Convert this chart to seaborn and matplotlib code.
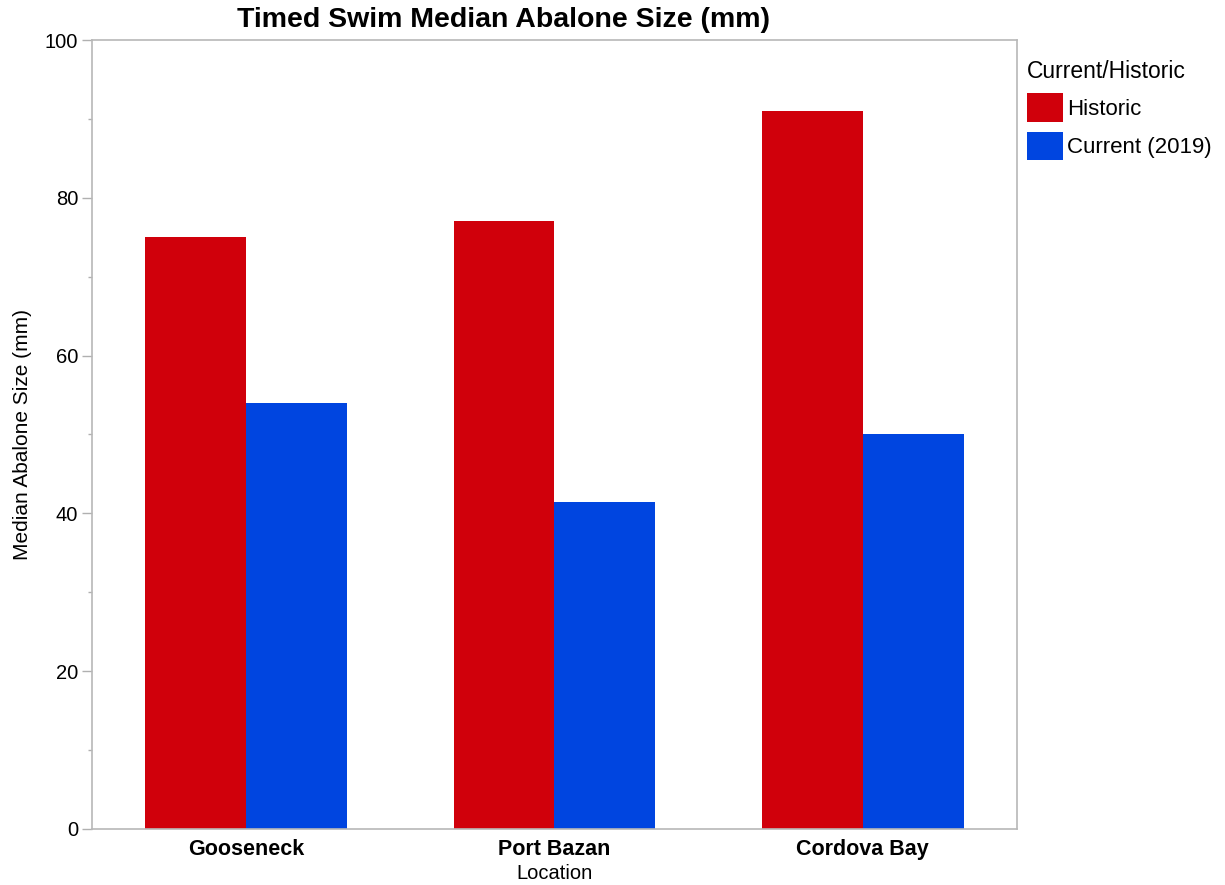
import matplotlib
matplotlib.use('Agg')
import matplotlib.pyplot as plt
import seaborn as sns
import pandas as pd
import numpy as np
from matplotlib.ticker import MultipleLocator

locations = ['Gooseneck', 'Port Bazan', 'Cordova Bay']
historic = [75, 77, 91]
current = [54, 41.5, 50]
groups = ['Historic', 'Current (2019)']

df = pd.DataFrame({
    'Location': locations * 2,
    'Current/Historic': [groups[0]] * 3 + [groups[1]] * 3,
    'size': historic + current,
})

sns.set_style('white')
plt.rcParams['font.family'] = ['Liberation Sans', 'DejaVu Sans']
plt.rcParams['text.color'] = 'black'
plt.rcParams['axes.labelcolor'] = 'black'
plt.rcParams['xtick.color'] = 'black'
plt.rcParams['ytick.color'] = 'black'

fig = plt.figure(figsize=(12.25, 8.85), dpi=100)
ax = fig.add_axes([0.0751, 0.0633, 0.7551, 0.8915])

sns.barplot(data=df, x='Location', y='size', hue='Current/Historic',
            palette=['#d0000b', '#0045e0'], width=0.655, saturation=1,
            linewidth=0, ax=ax)

ax.set_xlim(-0.5, 2.5)
ax.set_ylim(0, 100)
ax.yaxis.set_major_locator(MultipleLocator(20))
ax.yaxis.set_minor_locator(MultipleLocator(10))
ax.tick_params(axis='y', which='major', length=7, width=1, color='#b0b0b0',
               labelsize=14.5, labelcolor='black', left=True, pad=3)
ax.tick_params(axis='y', which='minor', length=3, width=1, color='#b0b0b0', left=True)
ax.tick_params(axis='x', length=0, labelsize=15.5, labelcolor='black', pad=7)
for lab in ax.get_xticklabels():
    lab.set_fontweight('bold')
for s in ax.spines.values():
    s.set_color('#b8b8b8')
    s.set_linewidth(1.2)

fig.text(0.411, 0.977, 'Timed Swim Median Abalone Size (mm)', fontsize=20.5,
         fontweight='bold', ha='center', va='center')
ax.set_xlabel('Location', fontsize=14.5, labelpad=3)
ax.set_ylabel('Median Abalone Size (mm)', fontsize=15, va='center')
ax.yaxis.set_label_coords(-0.075, 0.5)

handles, labels = ax.get_legend_handles_labels()
ax.legend(handles, labels, title='Current/Historic', loc='upper left',
          bbox_to_anchor=(0.8355, 0.936), bbox_transform=fig.transFigure,
          frameon=False, fontsize=16, title_fontsize=16.5, handlelength=1.62,
          handleheight=1.6, handletextpad=0.2, labelspacing=0.45,
          alignment='left', borderaxespad=0, borderpad=0.15)

fig.savefig('out.png', dpi=100)
